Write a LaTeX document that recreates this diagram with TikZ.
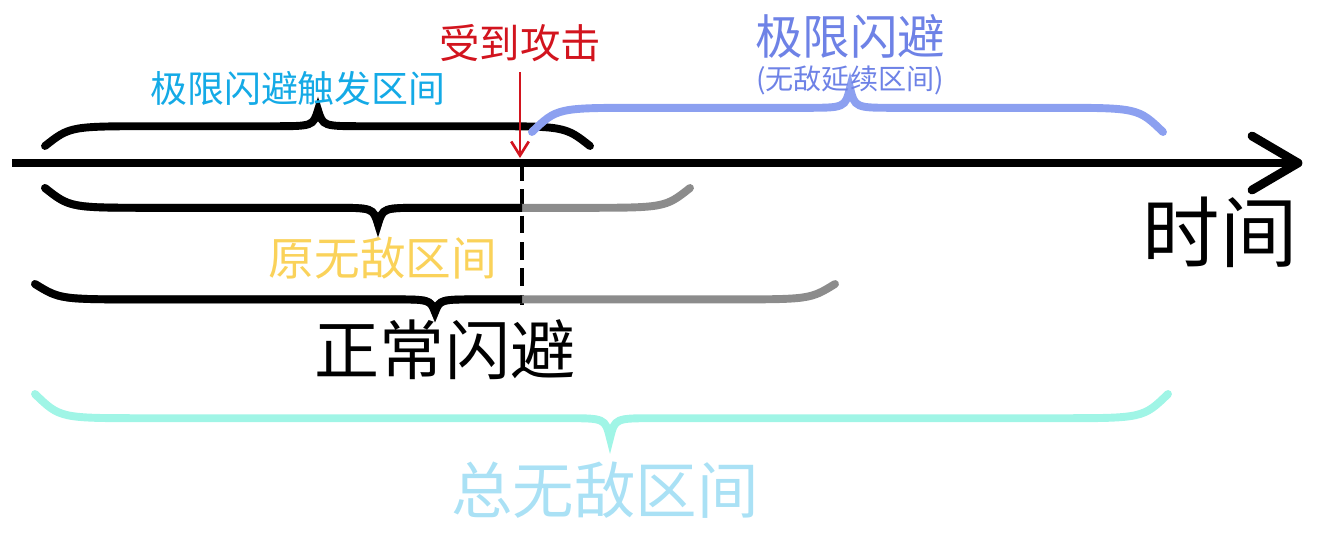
\documentclass[tikz,border=0pt]{standalone}
\usepackage{fontspec}
\setmainfont{Noto Sans CJK SC}
\usetikzlibrary{arrows.meta}
\definecolor{cyanlab}{RGB}{20,170,230}
\definecolor{redlab}{RGB}{210,20,30}
\definecolor{bluebr}{RGB}{140,160,240}
\definecolor{bluelab}{RGB}{110,130,230}
\definecolor{yellab}{RGB}{250,210,90}
\definecolor{tealbr}{RGB}{160,245,230}
\definecolor{totlab}{RGB}{170,225,245}
\definecolor{graybr}{RGB}{140,140,140}
\newcommand{\mybrace}[5]{% x1 x2 xm y h
  (#1,#4) .. controls ({#1+25},{#4+#5*0.55}) .. ({#1+110},{#4+#5*0.55})
  -- ({#3-45},{#4+#5*0.55}) .. controls ({#3-5},{#4+#5*0.55}) .. (#3,{#4+#5})
  .. controls ({#3+5},{#4+#5*0.55}) .. ({#3+45},{#4+#5*0.55})
  -- ({#2-110},{#4+#5*0.55}) .. controls ({#2-25},{#4+#5*0.55}) .. (#2,#4)}
\tikzset{brace/.style={line width=4.5pt,line cap=round},
  lab/.style={inner sep=0pt,anchor=center}}
\begin{document}
\begin{tikzpicture}[x=0.02cm,y=-0.02cm]
\useasboundingbox (0,0) rectangle (1320,549);
% axis
\coordinate (a0) at (12,163);
\coordinate (a1) at (1298,163);
\draw[line width=5pt] (a0) -- (a1);
\draw[line width=5pt,line cap=round,line join=round] (1252,136) -- (a1) -- (1252,190);
\node[lab,font=\fontsize{44}{44}\selectfont] (time) at (1220,232) {时间};
% top brace
\draw[brace] \mybrace{45}{590}{318}{146}{-36};
\node[lab,text=cyanlab,font=\fontsize{21}{21}\selectfont] (trig) at (298,88) {极限闪避触发区间};
% attack
\node[lab,text=redlab,font=\fontsize{23}{23}\selectfont] (hit) at (520,43) {受到攻击};
\coordinate (hitpt) at (520,158);
\draw[redlab,line width=1.5pt,-{Straight Barb[length=8pt,width=10pt]}] (hit.south) ++(0,10) -- (hitpt);
% blue brace
\draw[brace,bluebr] \mybrace{532}{1163}{850}{132}{-44};
\node[lab,text=bluelab,font=\fontsize{27}{27}\selectfont] (lim) at (850,36) {极限闪避};
\node[lab,text=bluelab,font=\fontsize{16}{16}\selectfont] (limsub) at (850,80) {(无敌延续区间)};
% dashed
\coordinate (d0) at (522,163);
\coordinate (d1) at (522,305);
\draw[line width=2.5pt,dash pattern=on 10pt off 5pt] (d0) -- (d1);
% brace 2
\draw[brace,graybr] \mybrace{45}{690}{378}{188}{36};
\begin{scope}
\clip (0,150) rectangle (522,340);
\draw[brace] \mybrace{45}{690}{378}{188}{36};
\end{scope}
\node[lab,text=yellab,font=\fontsize{26}{26}\selectfont] (orig) at (383,258) {原无敌区间};
% brace 3
\draw[brace,graybr] \mybrace{35}{835}{435}{284}{28};
\begin{scope}
\clip (0,250) rectangle (522,340);
\draw[brace] \mybrace{35}{835}{435}{284}{28};
\end{scope}
\node[lab,font=\fontsize{37}{37}\selectfont] (norm) at (445,350) {正常闪避};
% total
\draw[brace,tealbr] \mybrace{35}{1168}{610}{394}{44};
\node[lab,text=totlab,font=\fontsize{35}{35}\selectfont] (tot) at (605,490) {总无敌区间};
\end{tikzpicture}
\end{document}
